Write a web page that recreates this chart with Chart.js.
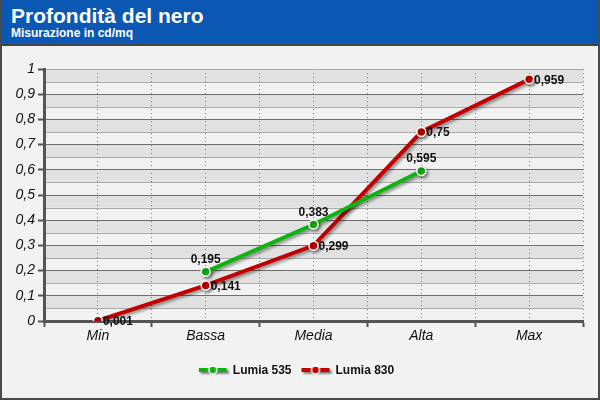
<!DOCTYPE html>
<html>
<head>
<meta charset="utf-8">
<script src="https://cdn.jsdelivr.net/npm/chart.js@4"></script>
<style>
  body { margin: 0; }
  #wrap { position: relative; width: 600px; height: 400px; background: #f2f2f2; overflow: hidden; font-family: "Liberation Sans", Arial, sans-serif; }
  #myChart { position: absolute; left: 0; top: 0; }
  #head { position: absolute; left: 0; top: 0; width: 600px; height: 44px; background: #0a58b3; border-bottom: 2px solid #444; color: #fff; }
  #head .t { position: absolute; left: 11px; top: 4px; font-size: 21px; font-weight: bold; }
  #head .s { position: absolute; left: 11px; top: 26px; font-size: 12px; font-weight: bold; }
  #frame { position: absolute; left: 0; top: 0; width: 600px; height: 400px; box-sizing: border-box; border: 2px solid #4a4a4a; border-top: none; pointer-events: none; }
</style>
</head>
<body>
<div id="wrap">
  <canvas id="myChart" width="600" height="400"></canvas>
  <div id="head"><div class="t">Profondità del nero</div><div class="s">Misurazione in cd/mq</div></div>
  <div id="frame"></div>
</div>
<script>
let categories = ['Min', 'Bassa', 'Media', 'Alta', 'Max'];
let lumia535 = [null, 0.195, 0.383, 0.595, null];
let lumia830 = [0.001, 0.141, 0.299, 0.75, 0.959];
let yTicks = [0, 0.1, 0.2, 0.3, 0.4, 0.5, 0.6, 0.7, 0.8, 0.9, 1];

let green = '#0fb30f';
let red = '#c20000';
let FONT = '"Liberation Sans", Arial, sans-serif';

function fmt(v) {
    return String(v).replace('.', ',');
}

// legend marker: short line with a dot, with shadow
function marker(color) {
    let c = document.createElement('canvas');
    c.width = 34; c.height = 16;
    let g = c.getContext('2d');
    g.shadowColor = 'rgba(0,0,0,0.45)';
    g.shadowOffsetX = 2; g.shadowOffsetY = 2; g.shadowBlur = 2;
    g.strokeStyle = color; g.lineWidth = 4;
    g.beginPath(); g.moveTo(3, 7); g.lineTo(31, 7); g.stroke();
    g.shadowColor = 'transparent';
    g.fillStyle = color; g.strokeStyle = '#fff'; g.lineWidth = 1.5;
    g.beginPath(); g.arc(17, 7, 4, 0, Math.PI * 2); g.fill(); g.stroke();
    return c;
}
let markers = [marker(green), marker(red)];

// alternating bands between the grid lines
let bands = {
    id: 'bands',
    beforeDraw(chart) {
        let {ctx, chartArea: a, scales: {y}} = chart;
        ctx.save();
        for (let i = 0; i < yTicks.length - 1; i++) {
            let lo = yTicks[i], hi = yTicks[i + 1];
            let mid = (lo + hi) / 2;
            let y1 = y.getPixelForValue(hi), ym = y.getPixelForValue(mid);
            ctx.fillStyle = '#e1e1e1';
            ctx.fillRect(a.left, y1, a.right - a.left, ym - y1);
            ctx.strokeStyle = '#a9a9a9';
            ctx.lineWidth = 1;
            ctx.beginPath();
            ctx.moveTo(a.left, Math.round(ym) + 0.5);
            ctx.lineTo(a.right, Math.round(ym) + 0.5);
            ctx.stroke();
        }
        ctx.restore();
    }
};

let shadow = {
    id: 'shadow',
    beforeDatasetDraw(chart) {
        let ctx = chart.ctx;
        ctx.save();
        ctx.shadowColor = 'rgba(0,0,0,0.4)';
        ctx.shadowOffsetX = 2;
        ctx.shadowOffsetY = 2;
        ctx.shadowBlur = 3;
    },
    afterDatasetDraw(chart) {
        chart.ctx.restore();
    }
};

let valueLabels = {
    id: 'valueLabels',
    afterDatasetsDraw(chart) {
        let ctx = chart.ctx;
        ctx.save();
        ctx.font = 'bold 12px ' + FONT;
        ctx.fillStyle = '#111';
        chart.data.datasets.forEach((ds, di) => {
            let meta = chart.getDatasetMeta(di);
            meta.data.forEach((pt, i) => {
                let v = ds.data[i];
                if (v === null) return;
                if (di === 0) {
                    ctx.textAlign = 'center';
                    ctx.textBaseline = 'middle';
                    ctx.fillText(fmt(v), pt.x, pt.y - 12);
                } else {
                    ctx.textAlign = 'left';
                    ctx.textBaseline = 'middle';
                    ctx.fillText(fmt(v), pt.x + 5, pt.y + 1);
                }
            });
        });
        ctx.restore();
    }
};

let ctx = document.getElementById('myChart');

let myChart = new Chart(ctx, {
    type: 'line',
    data: {
        labels: categories,
        datasets: [{
            label: 'Lumia 535',
            data: lumia535,
            borderColor: green,
            backgroundColor: green,
            borderWidth: 4,
            pointRadius: 4.5,
            pointBorderColor: '#fff',
            pointBorderWidth: 1.5,
            pointBackgroundColor: green
        }, {
            label: 'Lumia 830',
            data: lumia830,
            borderColor: red,
            backgroundColor: red,
            borderWidth: 4,
            pointRadius: 4.5,
            pointBorderColor: '#fff',
            pointBorderWidth: 1.5,
            pointBackgroundColor: red
        }]
    },
    options: {
        responsive: false,
        animation: false,
        devicePixelRatio: 1,
        layout: { padding: { left: 10, right: 17, top: 69, bottom: 13 } },
        plugins: {
            tooltip: { enabled: false },
            legend: {
                display: true,
                position: 'bottom',
                labels: {
                    usePointStyle: true,
                    pointStyleWidth: 28,
                    padding: 10,
                    color: '#111',
                    font: { family: FONT, size: 12, weight: 'bold' },
                    generateLabels(chart) {
                        let items = Chart.defaults.plugins.legend.labels.generateLabels(chart);
                        items.forEach((it, i) => { it.pointStyle = markers[i]; });
                        return items;
                    }
                }
            }
        },
        scales: {
            x: {
                offset: true,
                grid: {
                    offset: true,
                    color: '#777',
                    lineWidth: 1,
                    tickLength: 6,
                    tickColor: '#555',
                    tickWidth: 2,
                    tickBorderDash: []
                },
                border: { display: true, color: '#555', width: 3, dash: [1, 3] },
                ticks: {
                    color: '#111',
                    padding: 1,
                    font: { family: FONT, size: 14, style: 'italic' }
                },
                afterFit(scale) { scale.height = 34; }
            },
            x2: {
                position: 'top',
                offset: true,
                labels: categories,
                grid: { offset: false, color: '#777', drawTicks: false },
                border: { display: false, dash: [1, 3] },
                ticks: { display: false },
                afterFit(scale) { scale.height = 0; }
            },
            y: {
                min: 0,
                max: 1,
                afterBuildTicks(scale) {
                    scale.ticks = yTicks.map(v => ({ value: v }));
                },
                grid: {
                    color: c => (c.tick && c.tick.value === 1 ? '#a9a9a9' : '#6e6e6e'),
                    lineWidth: 1,
                    tickLength: 6,
                    tickColor: '#555',
                    tickWidth: 2
                },
                border: { display: true, color: '#555', width: 3 },
                ticks: {
                    color: '#111',
                    padding: 3,
                    font: { family: FONT, size: 14, style: 'italic' },
                    callback: v => fmt(Math.round(v * 10) / 10)
                },
                afterFit(scale) { scale.width = 34; }
            }
        }
    },
    plugins: [bands, shadow, valueLabels]
});
</script>
</body>
</html>
